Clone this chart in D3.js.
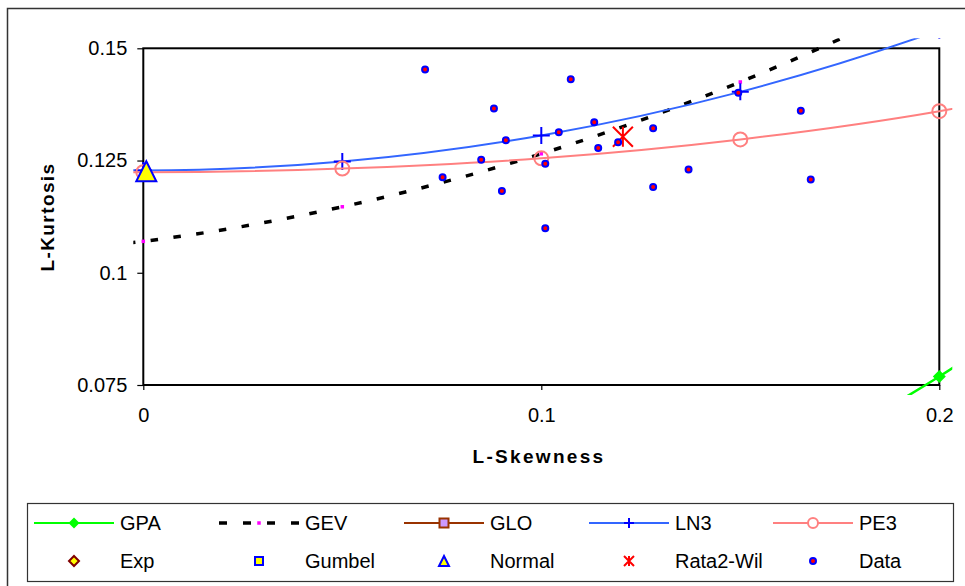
<!DOCTYPE html>
<html>
<head>
<meta charset="utf-8">
<script src="https://cdn.jsdelivr.net/npm/d3@7"></script>
<style>
  body { margin: 0; background: #fff; }
  svg { display: block; font-family: "Liberation Sans", Arial, sans-serif; }
</style>
</head>
<body>
<div id="chart"></div>
<script>
// L-moment ratio diagram: theoretical curves + sample points
const skewGrid = [-0.05, 0, 0.05, 0.1, 0.15, 0.2, 0.25];
const gevKurt = [0.1036, 0.1070, 0.1147, 0.1265, 0.1425, 0.1626, 0.1867];
const ln3Kurt = [0.1248, 0.1228, 0.1248, 0.1306, 0.1403, 0.1540, 0.1717];
const pe3Kurt = [0.1232, 0.1224, 0.1232, 0.1255, 0.1297, 0.1360, 0.1450];

const gpaSkew = [0.1, 0.2, 0.3];
const gpaKurt = [0.0294, 0.0769, 0.1415];

const normalPoint = [0, 0.1226];
const rataPoint = [0.1205, 0.1303];

const dataSkew = [0.0708, 0.0752, 0.0849, 0.0881, 0.0911, 0.0901, 0.1010, 0.1010, 0.1044, 0.1074,
                  0.1133, 0.1143, 0.1193, 0.1281, 0.1281, 0.1370, 0.1495, 0.1652, 0.1677];
const dataKurt = [0.1453, 0.1213, 0.1252, 0.1366, 0.1295, 0.1182, 0.1243, 0.1099, 0.1313, 0.1431,
                  0.1335, 0.1278, 0.1291, 0.1322, 0.1191, 0.1230, 0.1401, 0.1361, 0.1208];

const xTicks = [0, 0.1, 0.2];
const yTicks = [0.075, 0.1, 0.125, 0.15];
const legendNames = [["GPA", "GEV", "GLO", "LN3", "PE3"], ["Exp", "Gumbel", "Normal", "Rata2-Wil", "Data"]];

const W = 965, H = 586;
const plot = {left: 143.3, right: 939.3, top: 48.3, bottom: 385};

const svg = d3.select("#chart").append("svg")
    .attr("width", W)
    .attr("height", H);

// outer chart frame (runs off the right and bottom edge)
svg.append("rect")
    .attr("x", 7.5).attr("y", 8.5)
    .attr("width", 990).attr("height", 600)
    .attr("fill", "#fff")
    .attr("stroke", "#333")
    .attr("stroke-width", 1.5);

const x = d3.scaleLinear().domain([0, 0.2]).range([plot.left, plot.right]);
const y = d3.scaleLinear().domain([0.075, 0.15]).range([plot.bottom, plot.top]);

// Excel lets lines run a little past the plot area
svg.append("clipPath").attr("id", "clip")
    .append("rect")
    .attr("x", plot.left - 10).attr("y", plot.top - 10)
    .attr("width", plot.right - plot.left + 23)
    .attr("height", plot.bottom - plot.top + 20);

// axes
const yAxis = svg.append("g")
    .attr("transform", `translate(${plot.left},0)`)
    .call(d3.axisLeft(y).tickValues(yTicks).tickSize(6).tickPadding(10).tickFormat(d => String(d)));
const xAxis = svg.append("g")
    .attr("transform", `translate(0,${plot.bottom})`)
    .call(d3.axisBottom(x).tickValues(xTicks).tickSize(5).tickPadding(18).tickFormat(d => String(d)));

[xAxis, yAxis].forEach(g => {
  g.select(".domain").remove();
  g.attr("font-size", 20).attr("font-family", null).attr("color", "#000");
  g.selectAll(".tick line").attr("stroke-width", 1.2);
});

svg.append("rect")
    .attr("x", plot.left).attr("y", plot.top)
    .attr("width", plot.right - plot.left)
    .attr("height", plot.bottom - plot.top)
    .attr("fill", "none")
    .attr("stroke", "#000")
    .attr("stroke-width", 2);

// axis titles
svg.append("text")
    .attr("x", 539).attr("y", 463)
    .attr("text-anchor", "middle")
    .attr("font-size", 19).attr("font-weight", "bold")
    .attr("letter-spacing", 2.3)
    .text("L-Skewness");

svg.append("text")
    .attr("transform", "translate(54,217) rotate(-90)")
    .attr("text-anchor", "middle")
    .attr("font-size", 19).attr("font-weight", "bold")
    .attr("letter-spacing", 1.4)
    .text("L-Kurtosis");

// marker drawing
function marker(g, type, cx, cy, s) {
  const h = s / 2;
  switch (type) {
    case "diamond":
      return g.append("path").attr("d", `M${cx},${cy - h}L${cx + h},${cy}L${cx},${cy + h}L${cx - h},${cy}Z`);
    case "square":
      return g.append("rect").attr("x", cx - h).attr("y", cy - h).attr("width", s).attr("height", s);
    case "triangle":
      return g.append("path").attr("d", `M${cx},${cy - h}L${cx + h},${cy + h}L${cx - h},${cy + h}Z`);
    case "circle":
      return g.append("circle").attr("cx", cx).attr("cy", cy).attr("r", h);
    case "plus":
      return g.append("path").attr("d", `M${cx - h},${cy}H${cx + h}M${cx},${cy - h}V${cy + h}`);
    case "star":
      return g.append("path").attr("d",
        `M${cx - h},${cy - h}L${cx + h},${cy + h}M${cx + h},${cy - h}L${cx - h},${cy + h}M${cx},${cy - h}V${cy + h}`);
  }
}

const line = d3.line()
    .x(d => x(d[0]))
    .y(d => y(d[1]))
    .curve(d3.curveCatmullRom.alpha(0));

const chart = svg.append("g").attr("clip-path", "url(#clip)");

// GPA
const gpa = d3.zip(gpaSkew, gpaKurt);
chart.append("path").datum(gpa).attr("d", line)
    .attr("fill", "none").attr("stroke", "#00ff00").attr("stroke-width", 2.5);
gpa.forEach(d => marker(chart, "diamond", x(d[0]), y(d[1]), 13).attr("fill", "#00ff00"));

// GEV
const gev = d3.zip(skewGrid, gevKurt);
chart.append("path").datum(gev).attr("d", line)
    .attr("fill", "none").attr("stroke", "#000").attr("stroke-width", 3.5)
    .attr("stroke-dasharray", "7.5,15.5");
gev.forEach(d => marker(chart, "square", x(d[0]), y(d[1]), 3.5).attr("fill", "#ff00ff"));

// LN3
const ln3 = d3.zip(skewGrid, ln3Kurt);
chart.append("path").datum(ln3).attr("d", line)
    .attr("fill", "none").attr("stroke", "#3366ff").attr("stroke-width", 2);
ln3.forEach(d => marker(chart, "plus", x(d[0]), y(d[1]), 17)
    .attr("fill", "none").attr("stroke", "#0000ff").attr("stroke-width", 2));

// PE3
const pe3 = d3.zip(skewGrid, pe3Kurt);
chart.append("path").datum(pe3).attr("d", line)
    .attr("fill", "none").attr("stroke", "#ff8080").attr("stroke-width", 2);
pe3.forEach(d => marker(chart, "circle", x(d[0]), y(d[1]), 14)
    .attr("fill", "none").attr("stroke", "#ff8080").attr("stroke-width", 2));

// Normal
marker(chart, "triangle", x(normalPoint[0]) + 3, y(normalPoint[1]), 20)
    .attr("fill", "#ffff00").attr("stroke", "#0000ff").attr("stroke-width", 2);

// Rata2-Wil
marker(chart, "star", x(rataPoint[0]), y(rataPoint[1]), 20)
    .attr("fill", "none").attr("stroke", "#ff0000").attr("stroke-width", 2);

// sample data
chart.selectAll(".dot")
    .data(d3.zip(dataSkew, dataKurt))
    .join("circle")
    .attr("class", "dot")
    .attr("cx", d => x(d[0]))
    .attr("cy", d => y(d[1]))
    .attr("r", 3)
    .attr("fill", "#ff0000")
    .attr("stroke", "#0000ff")
    .attr("stroke-width", 2);

// legend
const legend = svg.append("g");
legend.append("rect")
    .attr("x", 27.5).attr("y", 503.5)
    .attr("width", 926).attr("height", 78)
    .attr("fill", "#fff")
    .attr("stroke", "#333")
    .attr("stroke-width", 1.2);

const colX = [34, 219, 404, 589, 773];
const rowY = [523, 561];

const legendStyle = [
  [
    {stroke: "#00ff00", sym: "diamond", size: 11, fill: "#00ff00"},
    {stroke: "#000", dash: true, sym: "square", size: 3.5, fill: "#ff00ff"},
    {stroke: "#993300", sym: "square", size: 9, fill: "#cc99ff", mstroke: "#993300"},
    {stroke: "#3366ff", sym: "plus", size: 10, fill: "none", mstroke: "#0000ff"},
    {stroke: "#ff8080", sym: "circle", size: 10, fill: "#fff", mstroke: "#ff8080"}
  ],
  [
    {sym: "diamond", size: 10, fill: "#ffff00", mstroke: "#800000"},
    {sym: "square", size: 8, fill: "#ffff00", mstroke: "#0000ff"},
    {sym: "triangle", size: 10, fill: "#ffff00", mstroke: "#0000ff"},
    {sym: "star", size: 10, fill: "none", mstroke: "#ff0000"},
    {sym: "circle", size: 6, fill: "#ff0000", mstroke: "#0000ff"}
  ]
];

legendNames.forEach((row, r) => {
  row.forEach((name, c) => {
    const st = legendStyle[r][c];
    const x0 = colX[c], cy = rowY[r];
    if (st.stroke) {
      legend.append("line")
          .attr("x1", x0).attr("x2", x0 + 80)
          .attr("y1", cy).attr("y2", cy)
          .attr("stroke", st.stroke)
          .attr("stroke-width", st.dash ? 3.5 : 2)
          .attr("stroke-dasharray", st.dash ? "8,16" : null);
    }
    const m = marker(legend, st.sym, x0 + 40, cy, st.size).attr("fill", st.fill);
    if (st.mstroke) m.attr("stroke", st.mstroke).attr("stroke-width", 2);
    legend.append("text")
        .attr("x", x0 + 86).attr("y", cy + 6.5)
        .attr("font-size", 20)
        .text(name);
  });
});
</script>
</body>
</html>
